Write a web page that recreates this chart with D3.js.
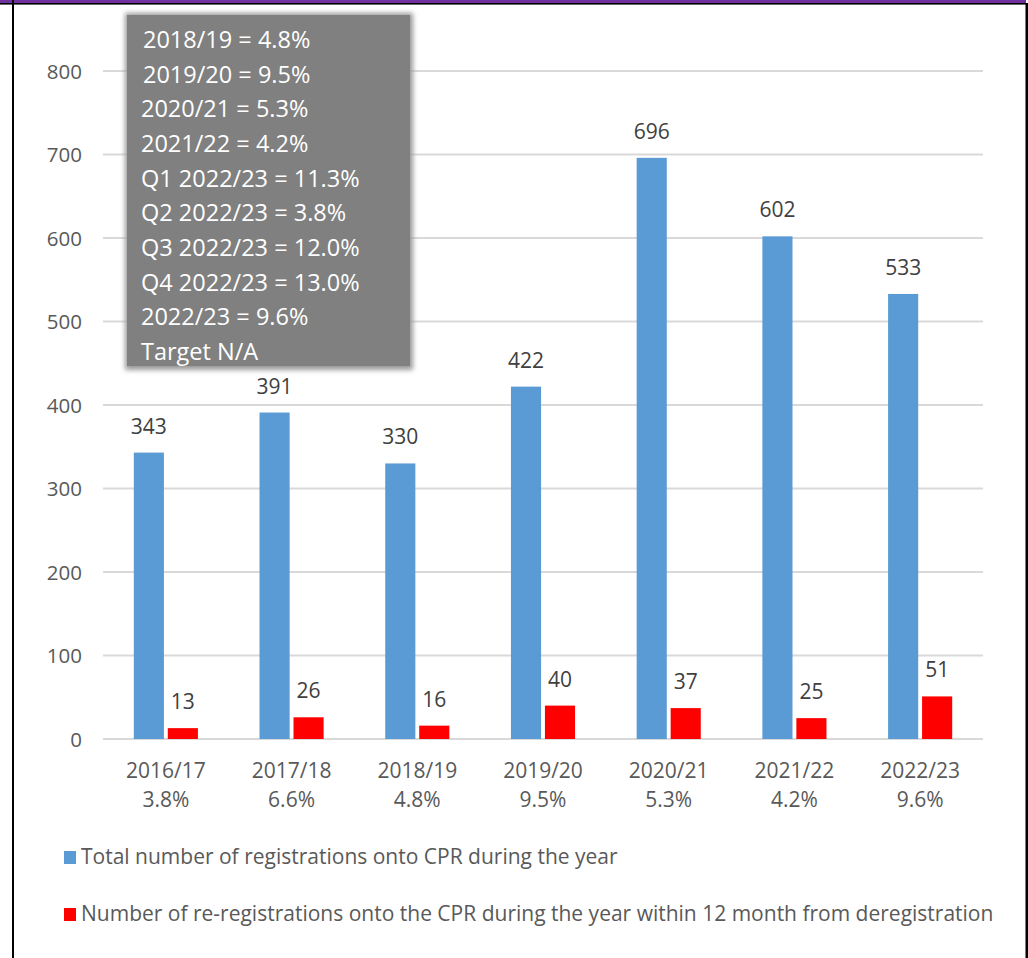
<!DOCTYPE html>
<html>
<head>
<meta charset="utf-8">
<script src="https://cdn.jsdelivr.net/npm/d3@7/dist/d3.min.js"></script>
<style>
  html, body { margin: 0; padding: 0; background: #fff; }
  svg { display: block; font-family: "Open Sans", sans-serif; }
</style>
</head>
<body>
<svg id="chart" width="1028" height="958"></svg>
<script>
const categories = ["2016/17", "2017/18", "2018/19", "2019/20", "2020/21", "2021/22", "2022/23"];
const percentLabels = ["3.8%", "6.6%", "4.8%", "9.5%", "5.3%", "4.2%", "9.6%"];
const totalRegistrations = [343, 391, 330, 422, 696, 602, 533];
const reRegistrations = [13, 26, 16, 40, 37, 25, 51];
const yTicks = [0, 100, 200, 300, 400, 500, 600, 700, 800];
const seriesNames = [
  "Total number of registrations onto CPR during the year",
  "Number of re-registrations onto the CPR during the year within 12 month from deregistration"
];
const seriesColors = ["#5b9bd5", "#ff0000"];
const noteLines = [
  "2018/19 = 4.8%",
  "2019/20 = 9.5%",
  "2020/21 = 5.3%",
  "2021/22 = 4.2%",
  "Q1 2022/23 = 11.3%",
  "Q2 2022/23 = 3.8%",
  "Q3 2022/23 = 12.0%",
  "Q4 2022/23 = 13.0%",
  "2022/23 = 9.6%",
  "Target N/A"
];

const svg = d3.select("#chart");

// frame
svg.append("rect").attr("x", 0).attr("y", 0).attr("width", 1026).attr("height", 3).attr("fill", "#7030a0");
svg.append("rect").attr("x", 0).attr("y", 3).attr("width", 1028).attr("height", 1.6).attr("fill", "#000");
svg.append("rect").attr("x", 12).attr("y", 0).attr("width", 2).attr("height", 958).attr("fill", "#000");
svg.append("rect").attr("x", 1025.5).attr("y", 3).attr("width", 2.5).attr("height", 955).attr("fill", "#000");

const plot = { left: 103, right: 983, top: 71, bottom: 739 };

const x = d3.scaleBand().domain(categories).range([plot.left, plot.right]).padding(0);
const y = d3.scaleLinear().domain([0, 800]).range([plot.bottom, plot.top]);

const bw = x.bandwidth();
const barW = bw * 0.226;
const gap = bw * 0.058;
const xs = d3.scaleBand().domain([0, 1]).range([-(barW + gap / 2), barW + gap / 2]).paddingInner(gap / (2 * barW + gap));

// gridlines
const grid = svg.append("g");
grid.selectAll("line").data(yTicks).join("line")
  .attr("x1", plot.left).attr("x2", plot.right)
  .attr("y1", d => y(d)).attr("y2", d => y(d))
  .attr("stroke", "#d9d9d9").attr("stroke-width", 2);

// y axis labels
const yAxis = d3.axisLeft(y).tickValues(yTicks).tickSize(0).tickPadding(0);
const yg = svg.append("g").attr("transform", `translate(82,0)`).call(yAxis);
yg.select(".domain").remove();
yg.selectAll("text").attr("font-family", "Open Sans").attr("font-size", 20.5).attr("fill", "#595959").attr("dy", "0.35em");

// bars
const series = [totalRegistrations, reRegistrations];
series.forEach((vals, si) => {
  const g = svg.append("g");
  g.selectAll("rect").data(vals).join("rect")
    .attr("x", (d, i) => x(categories[i]) + bw / 2 + xs(si))
    .attr("y", d => y(d))
    .attr("width", xs.bandwidth())
    .attr("height", d => y(0) - y(d))
    .attr("fill", seriesColors[si]);
  g.selectAll("text").data(vals).join("text")
    .attr("x", (d, i) => x(categories[i]) + bw / 2 + xs(si) + xs.bandwidth() / 2)
    .attr("y", d => y(d) - 19)
    .attr("text-anchor", "middle")
    .attr("font-size", 21)
    .attr("fill", "#404040")
    .text(d => d);
});

// x axis labels
const xl = svg.append("g");
categories.forEach((c, i) => {
  const cx = x(c) + bw / 2;
  xl.append("text").attr("x", cx).attr("y", 778).attr("text-anchor", "middle")
    .attr("font-size", 21).attr("fill", "#595959").text(c);
  xl.append("text").attr("x", cx).attr("y", 807).attr("text-anchor", "middle")
    .attr("font-size", 21).attr("fill", "#595959").text(percentLabels[i]);
});

// note box with shadow
const defs = svg.append("defs");
const f = defs.append("filter").attr("id", "soft").attr("x", "-10%").attr("y", "-10%").attr("width", "120%").attr("height", "120%");
f.append("feGaussianBlur").attr("stdDeviation", 2.5);
svg.append("rect").attr("x", 125).attr("y", 13).attr("width", 288).attr("height", 357)
  .attr("fill", "#9a9a9a").attr("filter", "url(#soft)");
svg.append("rect").attr("x", 127).attr("y", 15).attr("width", 283).attr("height", 351)
  .attr("fill", "#808080");
const noteScale = d3.scalePoint().domain(d3.range(noteLines.length)).range([48, 360]);
svg.append("g").selectAll("text").data(noteLines).join("text")
  .attr("x", (d, i) => i < 2 ? 143 : 141)
  .attr("y", (d, i) => noteScale(i))
  .attr("font-size", 23.5)
  .attr("fill", "#ffffff")
  .text(d => d);

// legend
const legendY = d3.scalePoint().domain([0, 1]).range([857, 914]);
const lg = svg.append("g");
seriesNames.forEach((n, i) => {
  lg.append("rect").attr("x", 64).attr("y", legendY(i) - 6).attr("width", 12).attr("height", 13)
    .attr("fill", seriesColors[i]);
  lg.append("text").attr("x", 81).attr("y", legendY(i) + 7).attr("font-size", 21)
    .attr("fill", "#595959").text(n);
});
</script>
</body>
</html>
